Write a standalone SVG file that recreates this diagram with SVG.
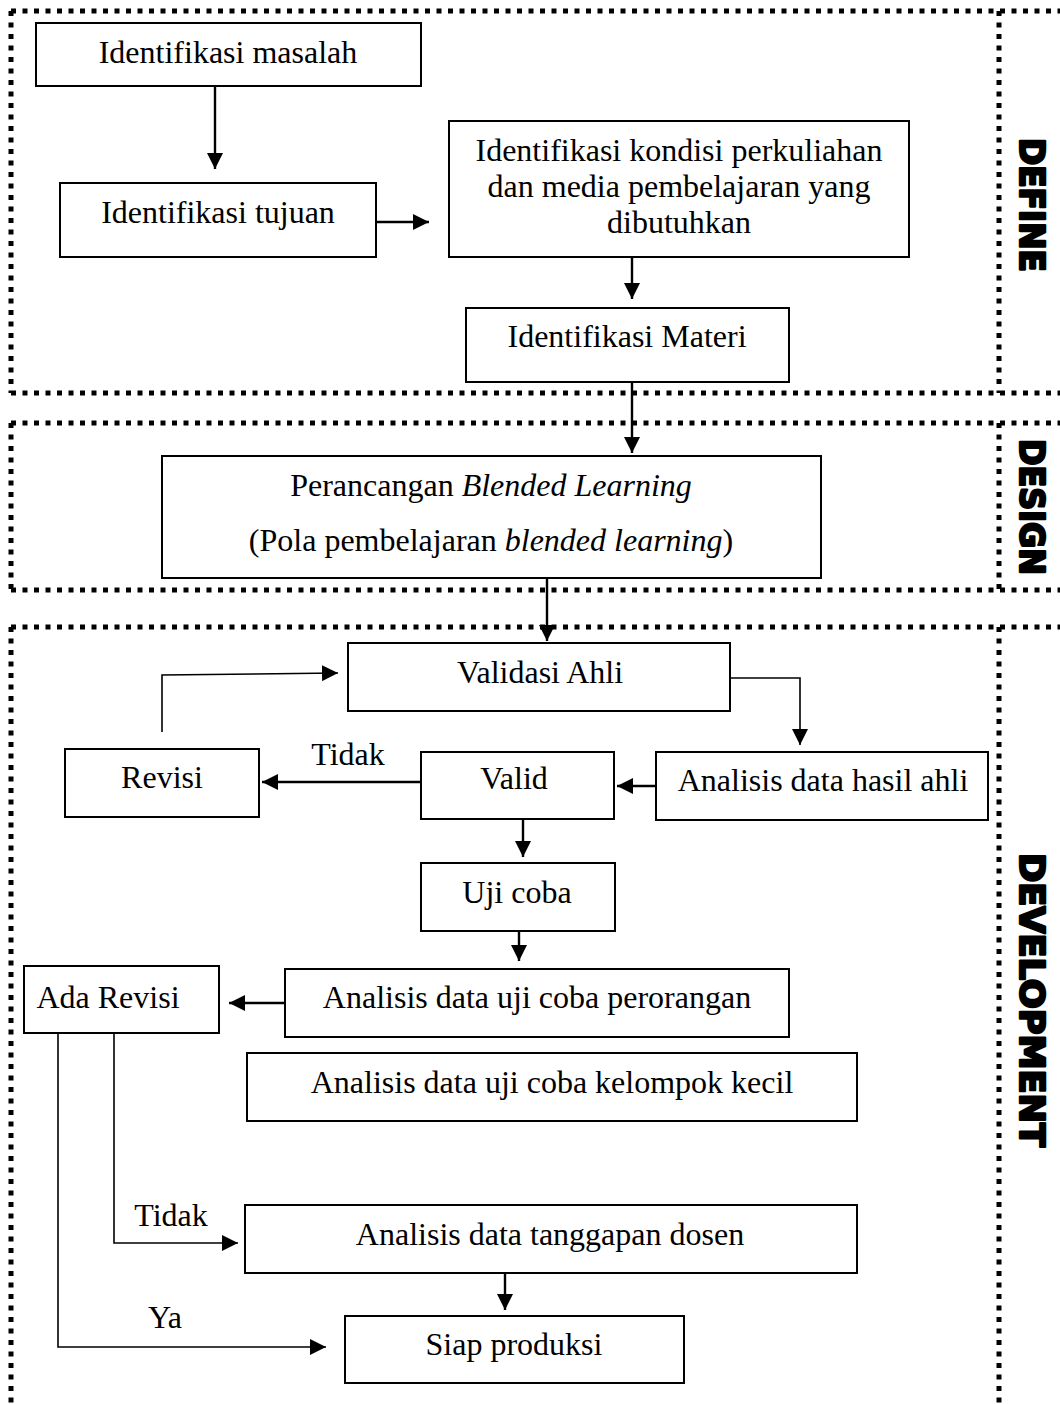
<svg xmlns="http://www.w3.org/2000/svg" width="1060" height="1404" viewBox="0 0 1060 1404">
<style>
.bg{fill:#ffffff}
.box{fill:#ffffff;stroke:#000;stroke-width:2}
.t{font-family:"Liberation Serif","Times New Roman",serif;font-size:32px;fill:#000;text-anchor:middle}
.dot{fill:none;stroke:#000;stroke-width:5;stroke-dasharray:5 6.5}
.side{font-family:"DejaVu Sans","Liberation Sans",Arial,sans-serif;font-weight:bold;font-size:34px;fill:#000;stroke:#000;stroke-width:2.4;stroke-linejoin:round;text-anchor:middle}
.c{fill:none;stroke:#000;stroke-width:2.4}
.cthin{fill:none;stroke:#000;stroke-width:1.6}
</style>
<defs>
<marker id="ah" markerUnits="userSpaceOnUse" markerWidth="17" markerHeight="16" refX="16" refY="8" orient="auto">
<path d="M0,0 L16,8 L0,16 z" fill="#000"/>
</marker>
</defs>
<rect class="bg" x="0" y="0" width="1060" height="1404"/>

<g id="phase-define">
<path class="dot" d="M11,11 H1060 M11,11 V393 M999,11 V393 M11,393 H1060"/>
<text class="side" transform="translate(1020,205) rotate(90)" textLength="134" lengthAdjust="spacingAndGlyphs">DEFINE</text>
</g>
<g id="phase-design">
<path class="dot" d="M11,423 H1060 M11,423 V590 M999,423 V590 M11,590 H1060"/>
<text class="side" transform="translate(1020,507) rotate(90)" textLength="136" lengthAdjust="spacingAndGlyphs">DESIGN</text>
</g>
<g id="phase-development">
<path class="dot" d="M11,627 H1060 M11,627 V1404 M999,627 V1404"/>
<text class="side" transform="translate(1020,1000) rotate(90)" textLength="294" lengthAdjust="spacingAndGlyphs">DEVELOPMENT</text>
</g>

<g id="connectors">
<path class="c" d="M215,86 V169" marker-end="url(#ah)"/>
<path class="c" d="M376,222 H429" marker-end="url(#ah)"/>
<path class="c" d="M632,257 V299" marker-end="url(#ah)"/>
<path class="c" d="M632,382 V453" marker-end="url(#ah)"/>
<path class="c" d="M547,578 V641" marker-end="url(#ah)"/>
<path class="cthin" d="M162,732 V675 L338,673" marker-end="url(#ah)"/>
<path class="cthin" d="M730,678 H800 V745" marker-end="url(#ah)"/>
<path class="c" d="M656,786 H617" marker-end="url(#ah)"/>
<path class="c" d="M421,782 H262" marker-end="url(#ah)"/>
<path class="c" d="M523,819 V857" marker-end="url(#ah)"/>
<path class="c" d="M519,931 V961" marker-end="url(#ah)"/>
<path class="c" d="M285,1003 H229" marker-end="url(#ah)"/>
<path class="cthin" d="M114,1033 V1243 H238" marker-end="url(#ah)"/>
<path class="cthin" d="M58,1033 V1347 H326" marker-end="url(#ah)"/>
<path class="c" d="M505,1273 V1310" marker-end="url(#ah)"/>
<text class="t" x="348" y="765">Tidak</text>
<text class="t" x="171" y="1226">Tidak</text>
<text class="t" x="165" y="1328">Ya</text>
</g>

<g id="n-masalah">
<rect class="box" x="36" y="23" width="385" height="63"/>
<text class="t" x="228" y="63">Identifikasi masalah</text>
</g>
<g id="n-tujuan">
<rect class="box" x="60" y="183" width="316" height="74"/>
<text class="t" x="218" y="223">Identifikasi tujuan</text>
</g>
<g id="n-kondisi">
<rect class="box" x="449" y="121" width="460" height="136"/>
<text class="t" x="679" y="161">Identifikasi kondisi perkuliahan</text>
<text class="t" x="679" y="197">dan media pembelajaran yang</text>
<text class="t" x="679" y="233">dibutuhkan</text>
</g>
<g id="n-materi">
<rect class="box" x="466" y="308" width="323" height="74"/>
<text class="t" x="627" y="347">Identifikasi Materi</text>
</g>
<g id="n-perancangan">
<rect class="box" x="162" y="456" width="659" height="122"/>
<text class="t" x="491" y="496">Perancangan <tspan font-style="italic">Blended Learning</tspan></text>
<text class="t" x="491" y="551">(Pola pembelajaran <tspan font-style="italic">blended learning</tspan>)</text>
</g>
<g id="n-validasi">
<rect class="box" x="348" y="643" width="382" height="68"/>
<text class="t" x="540" y="683">Validasi Ahli</text>
</g>
<g id="n-revisi">
<rect class="box" x="65" y="749" width="194" height="68"/>
<text class="t" x="162" y="788">Revisi</text>
</g>
<g id="n-valid">
<rect class="box" x="421" y="752" width="193" height="67"/>
<text class="t" x="514" y="789">Valid</text>
</g>
<g id="n-analisis-ahli">
<rect class="box" x="656" y="752" width="332" height="68"/>
<text class="t" x="823" y="791">Analisis data hasil ahli</text>
</g>
<g id="n-ujicoba">
<rect class="box" x="421" y="863" width="194" height="68"/>
<text class="t" x="517" y="903">Uji coba</text>
</g>
<g id="n-perorangan">
<rect class="box" x="285" y="969" width="504" height="68"/>
<text class="t" x="537" y="1008">Analisis data uji coba perorangan</text>
</g>
<g id="n-adarevisi">
<rect class="box" x="24" y="966" width="195" height="67"/>
<text class="t" x="108" y="1008">Ada Revisi</text>
</g>
<g id="n-kelompok">
<rect class="box" x="247" y="1053" width="610" height="68"/>
<text class="t" x="552" y="1093">Analisis data uji coba kelompok kecil</text>
</g>
<g id="n-tanggapan">
<rect class="box" x="245" y="1205" width="612" height="68"/>
<text class="t" x="550" y="1245">Analisis data tanggapan dosen</text>
</g>
<g id="n-siap">
<rect class="box" x="345" y="1316" width="339" height="67"/>
<text class="t" x="514" y="1355">Siap produksi</text>
</g>
</svg>
